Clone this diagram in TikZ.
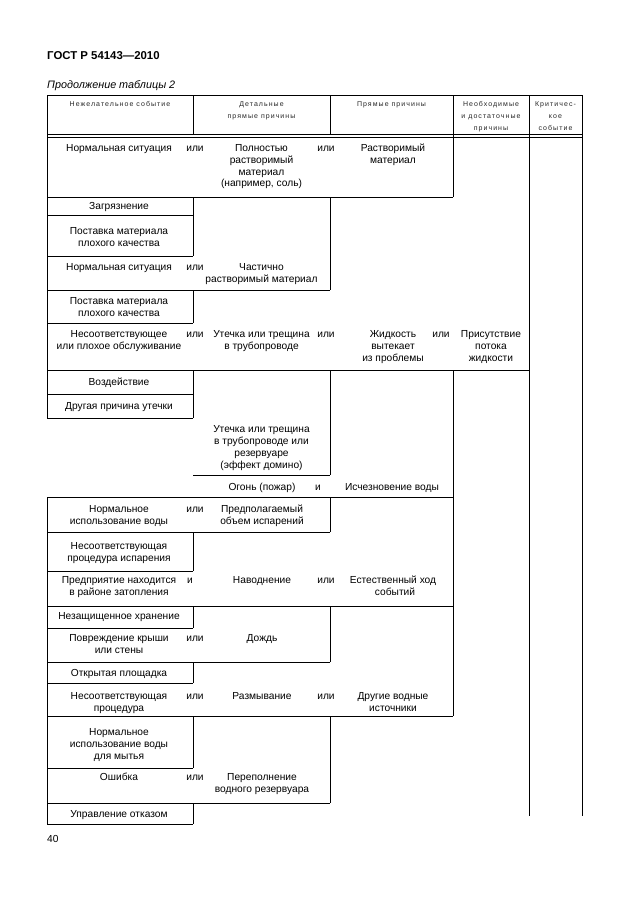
\documentclass[tikz,border=0pt]{standalone}
\usepackage{fontspec}
\setmainfont{Liberation Sans}
\newcommand\tcell[4]{\node[txt] (#1) at (#2,#3) {#4};}
\newcommand\hcell[4]{\node[hdr] (#1) at (#2,#3) {#4};}
\begin{document}
\begin{tikzpicture}[x=1pt,y=-1pt,
  ln/.style={line width=0.8pt, black},
  txt/.style={font=\fontsize{10.2}{12}\selectfont, anchor=base, inner sep=0pt},
  hdr/.style={font=\fontsize{7}{9}\selectfont\addfontfeature{LetterSpace=15}, anchor=base, inner sep=0pt, text=black!85}]
\useasboundingbox (0,0) rectangle (630,913);
% ---- page texts
\node[anchor=base west, inner sep=0pt, font=\fontsize{11.4}{13}\selectfont\bfseries] (title) at (47,59) {ГОСТ Р 54143—2010};
\node[anchor=base west, inner sep=0pt, font=\fontsize{10.8}{12}\selectfont\itshape] (cont) at (47,88.5) {Продолжение таблицы 2};
\node[anchor=base west, inner sep=0pt, font=\fontsize{10.2}{12}\selectfont] (pnum) at (47,842.5) {40};
% ---- horizontal lines
\draw[ln] (47,95)--(582,95);
\draw[ln] (47,134.5)--(582,134.5);
\draw[ln] (47,137.5)--(582,137.5);
\draw[ln] (47,197)--(453,197);
\draw[ln] (47,215)--(193,215);
\draw[ln] (47,256)--(193,256);
\draw[ln] (47,290)--(330,290);
\draw[ln] (47,323)--(193,323);
\draw[ln] (47,370)--(529,370);
\draw[ln] (47,394)--(193,394);
\draw[ln] (47,418)--(193,418);
\draw[ln] (193,475)--(330,475);
\draw[ln] (47,497)--(453,497);
\draw[ln] (47,532)--(330,532);
\draw[ln] (47,571)--(193,571);
\draw[ln] (47,606)--(453,606);
\draw[ln] (47,628)--(193,628);
\draw[ln] (47,662)--(330,662);
\draw[ln] (47,683)--(193,683);
\draw[ln] (47,716)--(453,716);
\draw[ln] (47,768)--(193,768);
\draw[ln] (47,803)--(330,803);
\draw[ln] (47,824)--(193,824);
% ---- vertical lines
\draw[ln] (47,95)--(47,418);
\draw[ln] (47,497)--(47,824);
\draw[ln] (193,95)--(193,134.5);
\draw[ln] (193,197)--(193,256);
\draw[ln] (193,290)--(193,323);
\draw[ln] (193,370)--(193,418);
\draw[ln] (193,532)--(193,571);
\draw[ln] (193,606)--(193,628);
\draw[ln] (193,662)--(193,683);
\draw[ln] (193,716)--(193,768);
\draw[ln] (193,803)--(193,824);
\draw[ln] (330,95)--(330,134.5);
\draw[ln] (330,197)--(330,290);
\draw[ln] (330,370)--(330,475);
\draw[ln] (330,497)--(330,532);
\draw[ln] (330,606)--(330,662);
\draw[ln] (330,716)--(330,803);
\draw[ln] (453,95)--(453,197);
\draw[ln] (453,370)--(453,716);
\draw[ln] (529,95)--(529,816);
\draw[ln] (582,95)--(582,816);
% ---- header
\hcell{h1}{120}{106}{Нежелательное событие}
\hcell{h2a}{261.5}{106}{Детальные}
\hcell{h2b}{261.5}{118}{прямые причины}
\hcell{h3}{391.5}{106}{Прямые причины}
\hcell{h4a}{491}{106}{Необходимые}
\hcell{h4b}{491}{118}{и достаточные}
\hcell{h4c}{491}{130}{причины}
\hcell{h5a}{555.5}{106}{Критичес-}
\hcell{h5b}{555.5}{118}{кое}
\hcell{h5c}{555.5}{130}{событие}
% ---- row A
\tcell{a1}{119}{151.5}{Нормальная ситуация}
\tcell{a2}{195}{151.5}{или}
\tcell{a3}{261.5}{151.5}{Полностью}
\tcell{a4}{261.5}{163.3}{растворимый}
\tcell{a5}{261.5}{175}{материал}
\tcell{a6}{261.5}{186.8}{(например, соль)}
\tcell{a7}{326}{151.5}{или}
\tcell{a8}{393}{151.5}{Растворимый}
\tcell{a9}{393}{163.3}{материал}
\tcell{b0}{119}{209.8}{Загрязнение}
\tcell{b1}{119}{234.5}{Поставка материала}
\tcell{b2}{119}{246.5}{плохого качества}
% ---- row B
\tcell{c1}{119}{270.5}{Нормальная ситуация}
\tcell{c2}{195}{270.5}{или}
\tcell{c3}{261.5}{270.5}{Частично}
\tcell{c4}{261.5}{282.5}{растворимый материал}
\tcell{d1}{119}{304}{Поставка материала}
\tcell{d2}{119}{316}{плохого качества}
% ---- row C
\tcell{e1}{119}{337.5}{Несоответствующее}
\tcell{e2}{119}{349.5}{или плохое обслуживание}
\tcell{e3}{195}{337.5}{или}
\tcell{e4}{261.5}{337.5}{Утечка или трещина}
\tcell{e5}{261.5}{349.5}{в трубопроводе}
\tcell{e6}{326}{337.5}{или}
\tcell{e7}{393}{337.5}{Жидкость}
\tcell{e8}{393}{349.5}{вытекает}
\tcell{e9}{393}{361.5}{из проблемы}
\tcell{e10}{441}{337.5}{или}
\tcell{e11}{491}{337.5}{Присутствие}
\tcell{e12}{491}{349.5}{потока}
\tcell{e13}{491}{361.5}{жидкости}
\tcell{f1}{119}{385.5}{Воздействие}
\tcell{f2}{119}{409.5}{Другая причина утечки}
\tcell{g1}{261.5}{432}{Утечка или трещина}
\tcell{g2}{261.5}{444}{в трубопроводе или}
\tcell{g3}{261.5}{456.5}{резервуаре}
\tcell{g4}{261.5}{468.5}{(эффект домино)}
\tcell{h6}{262}{490.8}{Огонь (пожар)}
\tcell{h7}{318}{490.8}{и}
\tcell{h8}{392}{490.8}{Исчезновение воды}
\tcell{i1}{119}{512.5}{Нормальное}
\tcell{i2}{119}{524.5}{использование воды}
\tcell{i3}{195}{512.5}{или}
\tcell{i4}{262}{512.5}{Предполагаемый}
\tcell{i5}{262}{524.5}{объем испарений}
\tcell{j1}{119}{549.5}{Несоответствующая}
\tcell{j2}{119}{561.5}{процедура испарения}
% ---- row D
\tcell{k1}{119}{583.5}{Предприятие находится}
\tcell{k2}{119}{595.5}{в районе затопления}
\tcell{k3}{190}{583.5}{и}
\tcell{k4}{262}{583.5}{Наводнение}
\tcell{k5}{326}{583.5}{или}
\tcell{k6}{393}{583.5}{Естественный ход}
\tcell{k7}{395}{595.5}{событий}
\tcell{l1}{119}{619}{Незащищенное хранение}
% ---- row E
\tcell{m1}{119}{641.5}{Повреждение крыши}
\tcell{m2}{119}{653.5}{или стены}
\tcell{m3}{195}{641.5}{или}
\tcell{m4}{262}{641.5}{Дождь}
\tcell{n1}{119}{676}{Открытая площадка}
% ---- row F
\tcell{o1}{119}{699.5}{Несоответствующая}
\tcell{o2}{119}{711.5}{процедура}
\tcell{o3}{195}{699.5}{или}
\tcell{o4}{262}{699.5}{Размывание}
\tcell{o5}{326}{699.5}{или}
\tcell{o6}{393}{699.5}{Другие водные}
\tcell{o7}{393}{711.5}{источники}
\tcell{p1}{119}{735.5}{Нормальное}
\tcell{p2}{119}{747.5}{использование воды}
\tcell{p3}{119}{759.5}{для мытья}
% ---- row G
\tcell{q1}{119}{780.5}{Ошибка}
\tcell{q2}{195}{780.5}{или}
\tcell{q3}{262}{780.5}{Переполнение}
\tcell{q4}{262}{792.5}{водного резервуара}
\tcell{r1}{119}{817}{Управление отказом}
\end{tikzpicture}
\end{document}
